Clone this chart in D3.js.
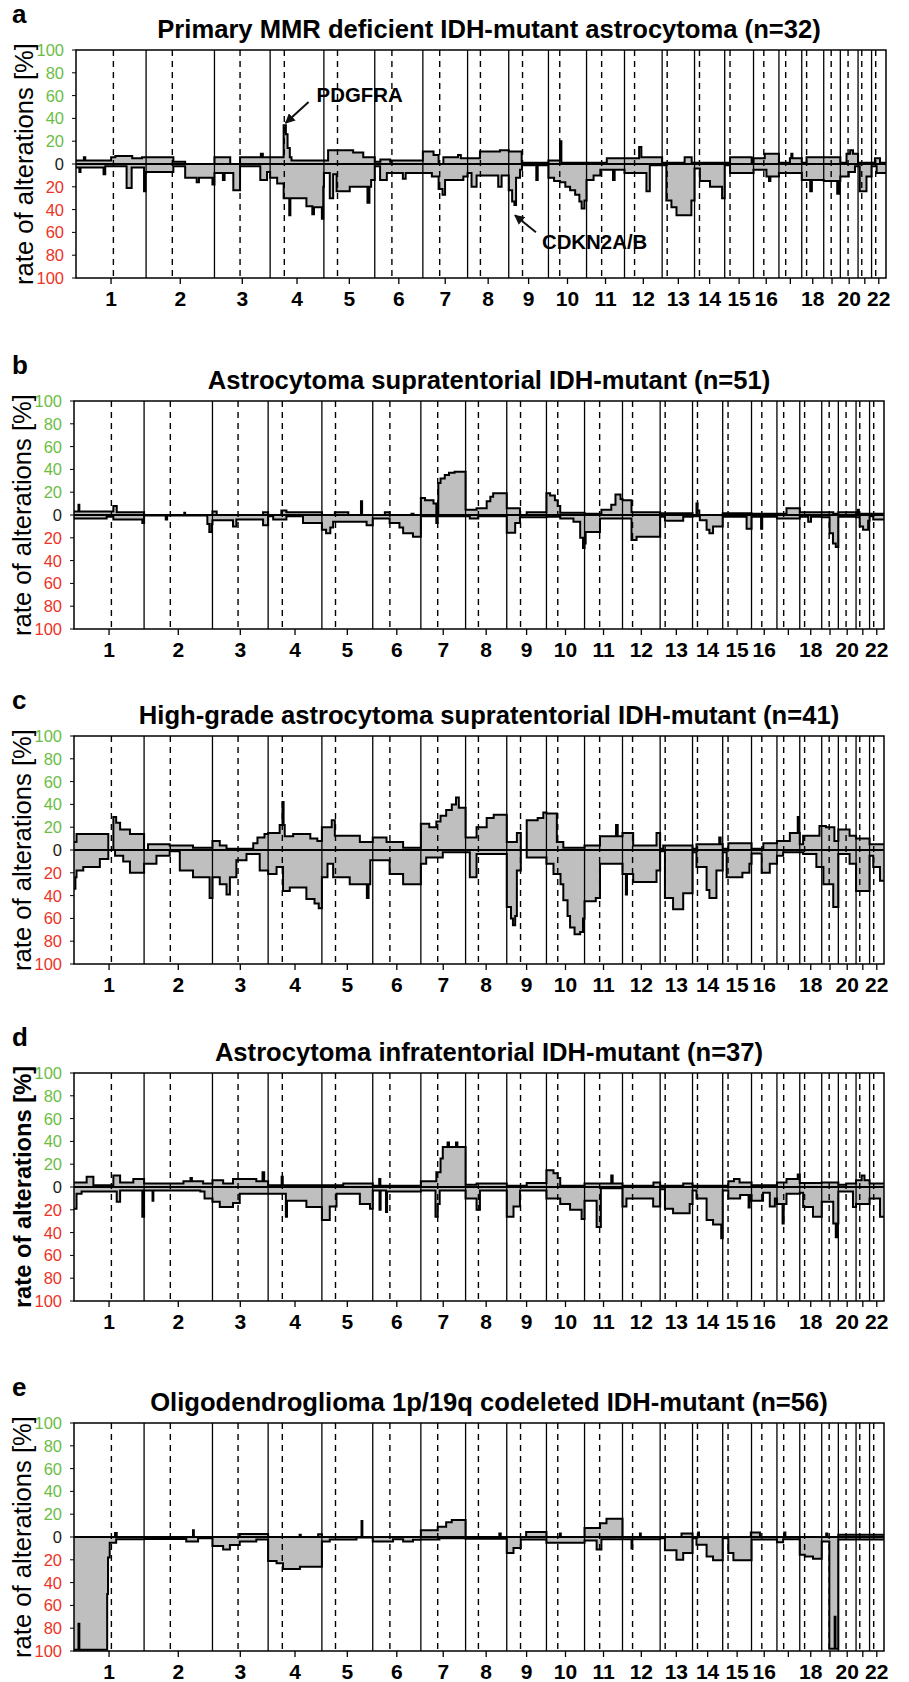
<!DOCTYPE html>
<html>
<head>
<meta charset="utf-8">
<script src="https://cdn.jsdelivr.net/npm/d3@7"></script>
<style>
body { margin: 0; background: #fff; }
text { font-family: Arial, "Liberation Sans", Helvetica, sans-serif; }
</style>
</head>
<body>
<svg id="chart" width="909" height="1682"></svg>
<script>
// chromosome layout (Mb)
const chromosomes = d3.range(1, 23);
const chrLengths = [249.3, 243.2, 198.0, 191.2, 180.9, 171.1, 159.1, 146.4, 141.2, 135.5, 135.0,
  133.9, 115.2, 107.3, 102.5, 90.4, 81.2, 78.1, 59.1, 63.0, 48.1, 51.3];
const centromeres = [133, 93.3, 91, 50.4, 48.4, 61, 59.9, 45.6, 49, 40.2, 53.7, 35.8, 17.9, 17.6,
  19, 36.6, 24, 17.2, 26.5, 27.5, 13.2, 14.7];
const xTickLabels = ["1","2","3","4","5","6","7","8","9","10","11","12","13","14","15","16","","18","","20","","22"];
const yTickValues = [100, 80, 60, 40, 20, 0, -20, -40, -60, -80, -100];

const panelLetters = ["a", "b", "c", "d", "e"];
const panelTitles = [
  "Primary MMR deficient IDH-mutant astrocytoma (n=32)",
  "Astrocytoma supratentorial IDH-mutant (n=51)",
  "High-grade astrocytoma supratentorial IDH-mutant (n=41)",
  "Astrocytoma infratentorial IDH-mutant (n=37)",
  "Oligodendroglioma 1p/19q codeleted IDH-mutant (n=56)"
];

// step profiles: [chromosome, start Mb, % of cases]
const gainA = [
  [1,0,3],[1,28,6],[1,33,3],[1,125,6],[1,140,7],[1,200,5],[1,235,6],
  [2,0,6],[2,97,2],[2,139,0],
  [3,0,6],[3,56,0],[3,91,6],[3,165,9],[3,172,6],
  [4,0,6],[4,48,34],[4,56,26],[4,62,14],[4,70,6],[4,76,3],
  [5,0,3],[5,15,12],[5,104,10],[5,140,6],
  [6,0,2],[6,20,4],[6,55,2],[6,60,3],
  [7,0,11],[7,38,8],[7,56,0],[7,73,6],[7,125,8],[7,135,5],
  [8,0,5],[8,44,11],[8,115,12],
  [9,0,11],[9,46,1],
  [10,0,3],[10,41,20],[10,46,1],
  [11,0,1],[11,72,5],
  [12,0,5],[12,52,15],[12,60,6],
  [13,0,1],[13,80,6],[13,105,1],
  [14,0,1],
  [15,0,1],[15,19,6],[15,96,1],
  [16,0,5],[16,40,9],
  [17,0,1],[17,39,5],[17,44,9],[17,48,5],
  [18,0,1],[18,17,6],
  [19,0,6],
  [20,0,1],[20,22,9],[20,35,12],[20,45,9],
  [21,0,1],
  [22,0,1],[22,12,5],[22,30,1]
];
const lossA = [
  [1,0,3],[1,12,7],[1,16,3],[1,98,9],[1,104,2],[1,180,21],[1,198,3],[1,242,24],[1,247,8],
  [2,0,7],[2,97,2],[2,139,12],[2,180,16],[2,188,12],[2,236,18],
  [3,0,8],[3,30,14],[3,36,8],[3,67,23],[3,91,2],[3,163,14],[3,187,7],
  [4,0,12],[4,25,17],[4,48,30],[4,68,45],[4,72,30],[4,129,37],[4,150,44],[4,156,38],[4,184,48],[4,189,20],
  [5,0,8],[5,21,30],[5,33,9],[5,45,24],[5,92,20],[5,155,34],[5,162,20],[5,168,14],
  [6,0,2],[6,19,14],[6,43,8],[6,100,13],[6,110,8],
  [7,0,8],[7,32,11],[7,56,22],[7,70,27],[7,79,14],[7,144,11],
  [8,0,8],[8,14,20],[8,32,10],[8,109,20],[8,121,10],
  [9,0,23],[9,12,33],[9,20,36],[9,26,12],[9,40,5],[9,47,1],[9,98,14],[9,103,1],
  [10,0,12],[10,20,15],[10,41,16],[10,60,20],[10,77,23],[10,95,27],[10,110,33],[10,118,39],[10,128,32],
  [11,0,14],[11,25,10],[11,49,5],[11,94,14],[11,100,5],
  [12,0,8],[12,78,24],[12,90,1],
  [13,0,1],[13,15,32],[13,33,38],[13,51,45],[13,104,32],
  [14,0,4],[14,19,15],[14,55,20],[14,98,30],
  [15,0,1],[15,19,8],
  [16,0,5],[16,46,11],[16,55,15],[16,60,11],
  [17,0,8],
  [18,0,14],[18,30,24],[18,36,14],
  [19,0,15],[19,48,26],[19,55,15],
  [20,0,11],[20,30,7],[20,52,2],
  [21,0,2],[21,6,24],[21,30,11],
  [22,0,2],[22,18,8]
];

const gainB = [
  [1,0,3],[1,16,9],[1,19,3],[1,140,8],[1,152,2.5],
  [2,0,0],[2,143,2],[2,146,0],
  [3,0,3],[3,15,0],[3,180,2.5],
  [4,0,0],[4,47,4],[4,65,2.5],
  [5,0,0],[5,46,2.5],[5,94,0],[5,139,12],[5,143,0],
  [6,0,0],[6,43,2.5],[6,60,0],[6,138,1],[6,145,0],
  [7,0,15],[7,15,13],[7,45,10],[7,55,0],[7,62,28],[7,70,32],[7,85,35],[7,100,37],[7,120,38],
  [8,0,4.5],[8,39,6],[8,75,12],[8,88,16],[8,98,19],
  [9,0,6],[9,47,0],[9,71,2.5],
  [10,0,19],[10,13,17],[10,30,13],[10,40,8],[10,49,2],
  [11,0,1],[11,60,4.5],[11,95,9],[11,110,18],[11,128,14],
  [12,0,13],[12,32,2.5],
  [13,0,1.5],
  [14,0,0],[14,14,10],[14,18,4],[14,24,0],
  [15,0,1.5],
  [16,0,1],
  [17,0,1],[17,34,6],
  [18,0,2.5],
  [19,0,2.5],[19,41,1],
  [20,0,2.5],
  [21,0,1],[21,6,4.5],[21,10,1],
  [22,0,1]
];
const lossB = [
  [1,0,3],[1,116,1.5],[1,140,4],[1,243,7],
  [2,0,0.5],[2,77,4],[2,82,0.5],[2,225,8],[2,232,15],[2,240,8],
  [3,0,4.5],[3,73,10],[3,85,4],[3,180,9],
  [4,0,1],[4,18,4],[4,65,1],[4,124,7],
  [5,0,13],[5,15,16],[5,30,11],[5,40,6],[5,159,9],
  [6,0,3],[6,60,7],[6,95,11],[6,108,16],[6,143,19],
  [7,0,1],[7,55,7],[7,60,1],
  [8,0,1],[8,15,3],[8,45,1],
  [9,0,15.5],[9,30,7],[9,47,2],
  [10,0,1.5],[10,49,3],[10,96,6],[10,120,20],[10,130,29],
  [11,0,25],[11,4,15],[11,55,3],
  [12,0,3],[12,32,22],[12,50,19],
  [13,0,1.5],[13,17,5],[13,82,1.5],
  [14,0,1],[14,26,4.5],[14,50,13],[14,60,16],[14,73,10],
  [15,0,1.5],[15,85,12],
  [16,0,1.5],[16,34,12],[16,38,1.5],
  [17,0,3],
  [18,0,1.5],[18,30,6],[18,40,1.5],
  [19,0,2],[19,28,16],[19,40,25],[19,50,28],
  [20,0,1.5],
  [21,0,2],[21,13,10],[21,25,13],[21,43,5],
  [22,0,1],[22,13,4]
];

const gainC = [
  [1,0,7],[1,9,14],[1,122,0],[1,140,29],[1,150,24],[1,164,18],[1,199,14],
  [2,0,0],[2,14,5],[2,91,4],[2,174,2],
  [3,0,8],[3,26,4],[3,50,1],[3,145,6],[3,160,11],[3,185,14],
  [4,0,15],[4,41,22],[4,51,42],[4,55,22],[4,59,12],[4,89,14],[4,150,10],[4,175,8],
  [5,0,20],[5,35,26],[5,46,12.6],[5,135,7],
  [6,0,11],[6,49,7],[6,108,2],
  [7,0,23],[7,30,20],[7,55,25],[7,70,30],[7,90,35],[7,110,40],[7,125,46],[7,135,37],
  [8,0,11],[8,39,20],[8,75,28],[8,100,31],
  [9,0,7],[9,36,15],[9,50,0],[9,71,26],[9,110,28],[9,130,33],
  [10,0,32],[10,37,7],[10,60,2],
  [11,0,4],[11,55,12],[11,112,22],[11,118,12],
  [12,0,15],[12,38,4],[12,121,15],
  [13,0,1],[13,11,4],
  [14,0,1],[14,14,5],[14,95,11],[14,100,5],
  [15,0,1],[15,20,6],
  [16,0,1],[16,42,6],
  [17,0,8],[17,46,15],[17,74,29],[17,78,15],
  [18,0,5],[18,12,12.6],[18,70,21],
  [19,0,21],[19,15,20],[19,45,8],
  [20,0,18],[20,40,12.6],
  [21,0,10],
  [22,0,5]
];
const lossC = [
  [1,0,34],[1,5,24],[1,9,18],[1,33,15],[1,92,8],[1,122,0],[1,146,5],[1,175,10],[1,199,20],
  [2,0,12],[2,44,5],[2,91,1],[2,127,18],[2,174,24],[2,233,42],
  [3,0,24],[3,26,30],[3,50,39],[3,62,24],[3,85,9],[3,121,3.5],[3,168,18],
  [4,0,21],[4,30,15],[4,53,36],[4,77,33],[4,136,43],[4,165,47],[4,180,51],
  [5,0,24],[5,20,12],[5,40,24],[5,99,30],[5,160,42],[5,166,30],[5,172,9],
  [6,0,9],[6,60,21],[6,108,30],
  [7,0,12],[7,19,6.5],[7,78,2],
  [8,0,2],[8,15,24],[8,39,3.5],
  [9,0,50],[9,15,60],[9,22,66],[9,30,58],[9,36,18],[9,50,0],[9,71,6.5],
  [10,0,12],[10,25,21],[10,50,30],[10,60,44],[10,75,58],[10,84,68],[10,100,74],[10,120,72],[10,130,60],
  [11,0,45],[11,40,42],[11,55,12],
  [12,0,21],[12,12,39],[12,16,21],[12,38,28],[12,121,18],
  [13,0,1],[13,17,42],[13,46,52],[13,82,38],
  [14,0,2],[14,14,15],[14,50,35],[14,60,42],[14,85,18],
  [15,0,2],[15,14,24],[15,70,20],[15,95,12],
  [16,0,3],[16,36,20],[16,65,12],
  [17,0,5],[17,22,2],
  [18,0,2],[18,12,3.5],[18,59,15],
  [19,0,15],[19,6,30],[19,41,50],
  [20,0,3.5],[20,40,12],
  [21,0,36],
  [22,0,5],[22,13,15],[22,37,27]
];

const gainD = [
  [1,0,4],[1,45,9],[1,69,1.5],[1,140,10],[1,164,4],[1,211,7],
  [2,0,3],[2,140,5],[2,165,8],[2,170,5],[2,210,3],
  [3,0,6],[3,38,3],[3,73,7],[3,156,5],[3,178,13],[3,184,5],
  [4,0,1.5],[4,48,9],[4,52,1.5],
  [5,0,1.5],[5,76,3],
  [6,0,1],[6,23,7],[6,27,1],
  [7,0,5],[7,55,13],[7,70,25],[7,78,35],[7,95,39],[7,100,35],[7,125,39],[7,130,35],
  [8,0,2],[8,39,3],
  [9,0,1],[9,71,3.5],
  [10,0,14.6],[10,25,12],[10,40,8],[10,49,1],
  [11,0,3],[11,95,10],[11,100,3],
  [12,0,1],[12,110,4],
  [13,0,1],[13,82,3],
  [14,0,1],
  [15,0,1],[15,20,5],[15,40,7],[15,60,4],
  [16,0,1.5],
  [17,0,4],[17,34,7],[17,74,11],
  [18,0,3.5],
  [19,0,4],
  [20,0,2],[20,28,3],
  [21,0,6],[21,20,10],[21,30,6],
  [22,0,3]
];
const lossD = [
  [1,0,19],[1,9,6],[1,27,4],[1,152,13],[1,164,3],[1,243,26],
  [2,0,3],[2,30,12],[2,33,3],[2,200,4],[2,215,10],
  [3,0,13],[3,26,17.5],[3,73,14],[3,97,6],
  [4,0,6],[4,63,26],[4,67,12],[4,136,17.5],
  [5,0,29],[5,28,17],[5,52,6],[5,135,15],[5,171,19],
  [6,0,3],[6,24,20],[6,28,3],[6,47,22],[6,51,4],
  [7,0,3],[7,52,26],[7,60,15],[7,67,3],
  [8,0,10],[8,39,20],[8,51,3],
  [9,0,26],[9,24,17],[9,47,3],
  [10,0,10],[10,49,15],[10,84,20],[10,125,28],
  [11,0,12],[11,43,35],[11,58,1],
  [12,0,17],[12,14,10],[12,109,17],
  [13,0,2],[13,17,19],[13,46,23],[13,105,15],
  [14,0,3],[14,14,10],[14,50,29],[14,73,33],[14,102,45],
  [15,0,3],[15,20,10],[15,62,7],[15,92,18],[15,96,7],
  [16,0,12],[16,41,5],[16,65,17],[16,83,10],
  [17,0,15],[17,20,32],[17,24,15],[17,34,6],
  [18,0,5],[18,12,17.5],[18,47,26],
  [19,0,13],[19,41,32],[19,50,44],[19,55,32],
  [20,0,4],[20,52,17.5],
  [21,0,15],
  [22,0,10],[22,37,26]
];

const gainE = [
  [1,0,0],[1,146,3.5],[1,152,0],
  [2,0,0],[2,174,6],[2,177,0],
  [3,0,0],[3,97,2.6],
  [4,0,0],[4,112,2],[4,116,0],[4,178,2.5],
  [5,0,0],[5,141,14],[5,144,0],
  [6,0,0],
  [7,0,6],[7,60,9],[7,90,13],[7,110,15],
  [8,0,0],[8,120,3],[8,125,0],
  [9,0,0],[9,69,4.4],
  [10,0,0],[10,48,3],[10,51,0],
  [11,0,8],[11,55,12],[11,78,16],
  [12,0,0],[12,62,3],[12,65,0],
  [13,0,0],[13,76,3],
  [14,0,0],[14,20,4],[14,23,0],
  [15,0,0],[15,100,4],
  [16,0,4],[16,30,0],
  [17,0,0],[17,26,4],[17,30,0],
  [18,0,0],
  [19,0,0],[19,16,3],[19,20,0],
  [20,0,2],
  [21,0,2],
  [22,0,2]
];
const lossE = [
  [1,0,99],[1,16,76],[1,19,99],[1,118,50],[1,121,18],[1,127,5],[1,150,2],
  [2,0,1.7],[2,150,4],[2,192,1],
  [3,0,8],[3,38,11],[3,62,7],[3,97,4],[3,156,2.3],
  [4,0,21],[4,30,23],[4,53,28],[4,113,26],
  [5,0,4],[5,28,2.3],[5,123,0.5],
  [6,0,4],[6,72,2],[6,108,4],[6,143,2.5],
  [7,0,2.3],[7,66,1],
  [8,0,1.5],
  [9,0,14],[9,24,9.6],[9,50,2.3],
  [10,0,5],
  [11,0,3],[11,43,11],[11,60,2],
  [12,0,2],[12,32,10],[12,35,2],
  [13,0,1],[13,17,11.7],[13,58,20],[13,82,14],
  [14,0,1],[14,14,6.7],[14,50,17],[14,73,20.5],
  [15,0,1],[15,20,14],[15,38,20.5],
  [16,0,2.3],
  [17,0,4.7],[17,22,2],
  [18,0,15.5],[18,18,17],[18,47,19],
  [19,0,4],[19,27,98],[19,46,70],[19,49,98],
  [20,0,2.3],
  [21,0,2.3],
  [22,0,2.3]
];

const gains = [gainA, gainB, gainC, gainD, gainE];
const losses = [lossA, lossB, lossC, lossD, lossE];

// layout
const panelTop = [50, 401, 736, 1073, 1423];
const panelLeft = [76, 74, 74, 74, 74];
const plotW = 810, plotH = 228;
const green = "#6cbd45", red = "#ec3326";

const chrStart = [];
chromosomes.reduce((acc, c, i) => { chrStart.push(acc); return acc + chrLengths[i]; }, 0);
const genomeLength = d3.sum(chrLengths);

const svg = d3.select("#chart");
const defs = svg.append("defs");
defs.append("marker").attr("id", "arrowhead")
  .attr("viewBox", "0 0 10 10").attr("refX", 9).attr("refY", 5)
  .attr("markerWidth", 5).attr("markerHeight", 5).attr("orient", "auto")
  .append("path").attr("d", "M0,0L10,5L0,10z").attr("fill", "#111");

function toSteps(rows) {
  const pts = rows.map(r => ({ pos: chrStart[r[0] - 1] + r[1], v: r[2] }));
  pts.push({ pos: genomeLength, v: pts[pts.length - 1].v });
  return pts;
}

function drawPanel(i) {
  const left = panelLeft[i], top = panelTop[i];
  const x = d3.scaleLinear().domain([0, genomeLength]).range([left, left + plotW]);
  const y = d3.scaleLinear().domain([-100, 100]).range([top + plotH, top]);
  const g = svg.append("g");

  defs.append("clipPath").attr("id", "clip" + i)
    .append("rect").attr("x", left).attr("y", top).attr("width", plotW).attr("height", plotH);
  const plot = g.append("g").attr("clip-path", `url(#clip${i})`);

  const series = [
    { data: toSteps(gains[i]), sign: 1 },
    { data: toSteps(losses[i]), sign: -1 }
  ];
  series.forEach(s => {
    const area = d3.area().curve(d3.curveStepAfter)
      .x(d => x(d.pos)).y0(y(0)).y1(d => y(s.sign * d.v));
    plot.append("path").attr("d", area(s.data)).attr("fill", "#bfbfbf");
  });
  series.forEach(s => {
    const line = d3.line().curve(d3.curveStepAfter)
      .x(d => x(d.pos)).y(d => y(s.sign * d.v));
    plot.append("path").attr("d", line(s.data)).attr("fill", "none")
      .attr("stroke", "#000").attr("stroke-width", 2);
  });

  // chromosome boundaries and centromeres
  g.selectAll(".chrline").data(chrStart.slice(1)).join("line")
    .attr("x1", d => x(d)).attr("x2", d => x(d))
    .attr("y1", top).attr("y2", top + plotH)
    .attr("stroke", "#000").attr("stroke-width", 1.3);
  g.selectAll(".cenline").data(chromosomes).join("line")
    .attr("x1", (c, k) => x(chrStart[k] + centromeres[k]))
    .attr("x2", (c, k) => x(chrStart[k] + centromeres[k]))
    .attr("y1", top).attr("y2", top + plotH)
    .attr("stroke", "#000").attr("stroke-width", 1.4).attr("stroke-dasharray", "6,5");

  // zero line
  g.append("line").attr("x1", left).attr("x2", left + plotW)
    .attr("y1", y(0)).attr("y2", y(0)).attr("stroke", "#000").attr("stroke-width", 2.2);

  // frame
  g.append("rect").attr("x", left).attr("y", top).attr("width", plotW).attr("height", plotH)
    .attr("fill", "none").attr("stroke", "#000").attr("stroke-width", 1.5);

  // x ticks
  const centers = chromosomes.map((c, k) => chrStart[k] + chrLengths[k] / 2);
  g.selectAll(".xt").data(centers).join("line")
    .attr("x1", d => x(d)).attr("x2", d => x(d))
    .attr("y1", top + plotH).attr("y2", top + plotH + 6)
    .attr("stroke", "#000").attr("stroke-width", 1.3);
  g.selectAll(".xl").data(centers).join("text")
    .attr("x", d => x(d)).attr("y", top + plotH + 28)
    .attr("text-anchor", "middle").attr("font-size", 21).attr("font-weight", "bold")
    .text((d, k) => xTickLabels[k]);

  // y ticks
  g.selectAll(".yt").data(yTickValues).join("line")
    .attr("x1", left - 4).attr("x2", left)
    .attr("y1", d => y(d)).attr("y2", d => y(d))
    .attr("stroke", "#000").attr("stroke-width", 1);
  g.selectAll(".yl").data(yTickValues).join("text")
    .attr("x", left - 12).attr("y", d => y(d))
    .attr("dy", "0.36em").attr("text-anchor", "end").attr("font-size", 16.5)
    .attr("fill", d => d > 0 ? green : (d < 0 ? red : "#231a10"))
    .text(d => Math.abs(d));

  // y title
  g.append("text")
    .attr("transform", `translate(${left - 43},${y(0)}) rotate(-90)`)
    .attr("text-anchor", "middle")
    .attr("font-size", i === 3 ? 23.7 : 25.6)
    .attr("font-weight", i === 3 ? "bold" : "normal")
    .text("rate of alterations [%]");

  // title and letter
  g.append("text").attr("x", 489).attr("y", top - 12)
    .attr("text-anchor", "middle").attr("font-size", 25.6).attr("font-weight", "bold")
    .text(panelTitles[i]);
  g.append("text").attr("x", 12).attr("y", top - 27)
    .attr("font-size", 26).attr("font-weight", "bold")
    .text(panelLetters[i]);

  return { x, y, g };
}

const panels = d3.range(5).map(drawPanel);

// gene annotations, panel a
const pa = panels[0];
const annotations = [
  { label: "PDGFRA", chr: 4, pos: 55, value: 36, dx: 23, dy: -21, tx: 31, ty: -21 },
  { label: "CDKN2A/B", chr: 9, pos: 22, value: -45, dx: 21, dy: 17, tx: 27, ty: 34 }
];
annotations.forEach(a => {
  const px = pa.x(chrStart[a.chr - 1] + a.pos), py = pa.y(a.value);
  pa.g.append("line")
    .attr("x1", px + a.dx).attr("y1", py + a.dy).attr("x2", px).attr("y2", py)
    .attr("stroke", "#111").attr("stroke-width", 2).attr("marker-end", "url(#arrowhead)");
  pa.g.append("text").attr("x", px + a.tx).attr("y", py + a.ty)
    .attr("font-size", 20.4).attr("font-weight", "bold").text(a.label);
});
</script>
</body>
</html>
